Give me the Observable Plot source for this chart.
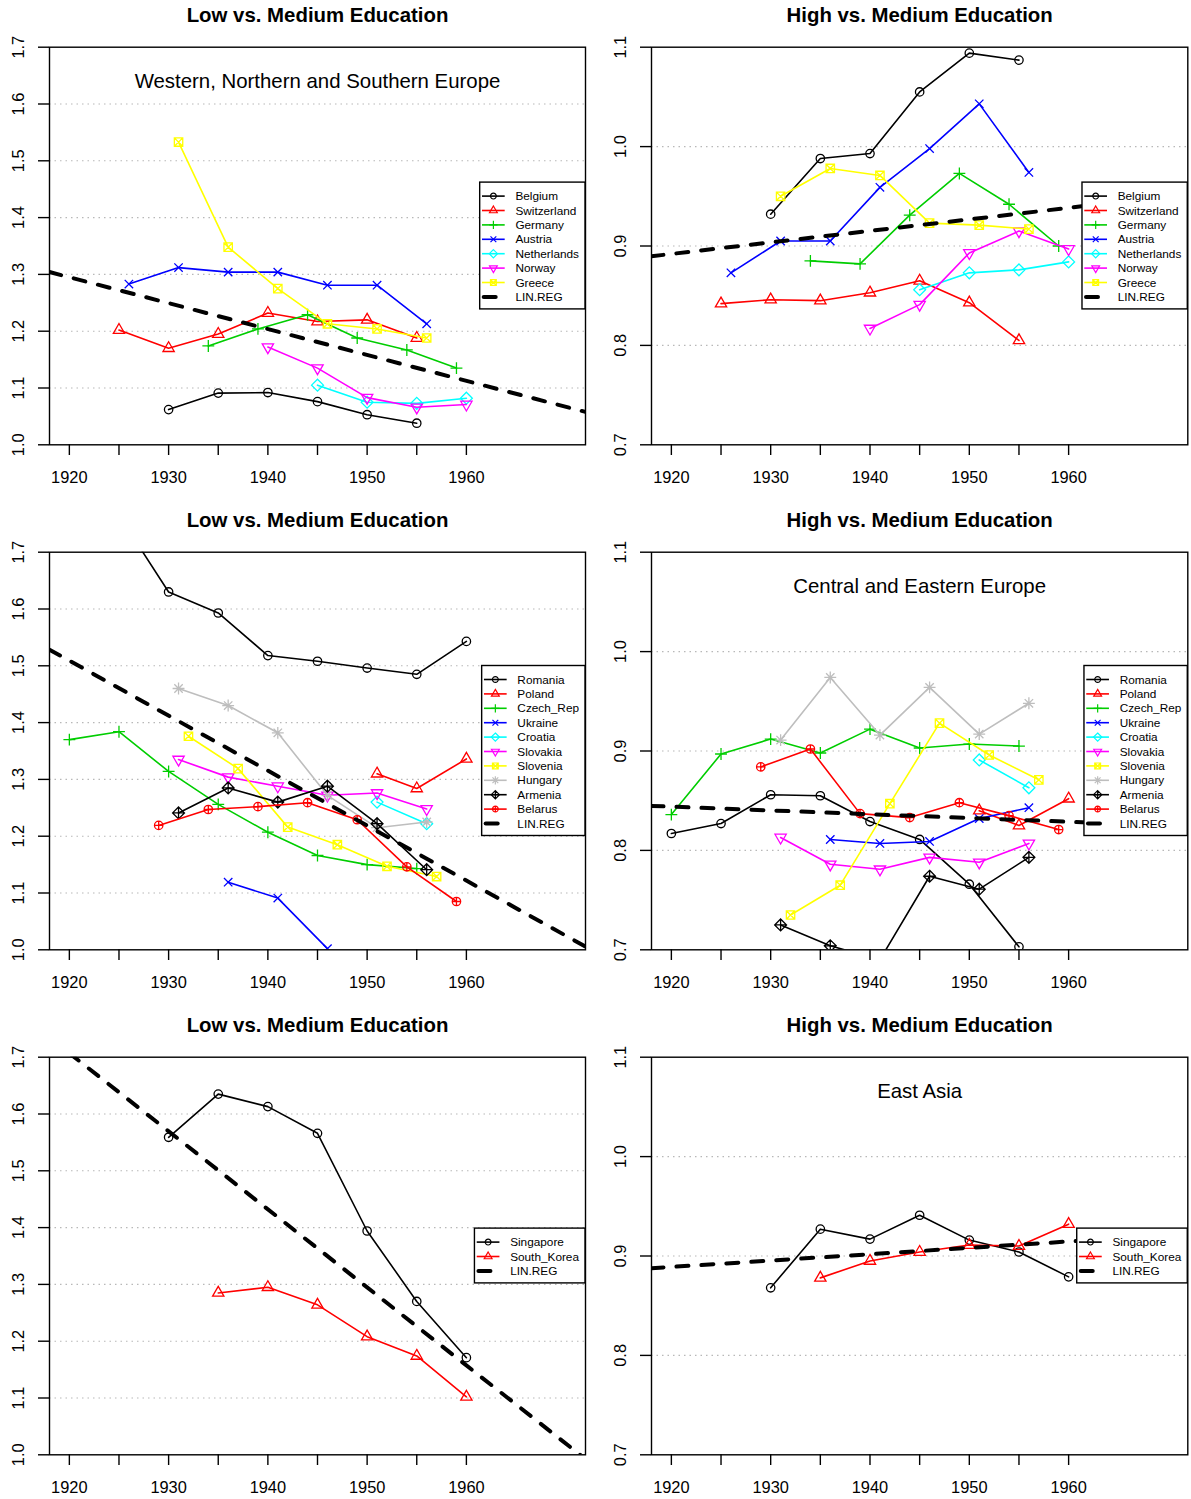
<!DOCTYPE html>
<html><head><meta charset="utf-8">
<script src="https://cdn.jsdelivr.net/npm/d3@7"></script>
<script src="https://cdn.jsdelivr.net/npm/@observablehq/plot@0.6"></script>
<style>
body{margin:0;background:#fff;}
#wrap{position:relative;width:1191px;height:1499px;overflow:hidden;background:#fff;font-family:"Liberation Sans",Arial,sans-serif;}
#wrap svg{position:absolute;}
</style></head><body><div id="wrap"></div>
<script>
// ---------- axes ----------
const xTicks = [1920, 1925, 1930, 1935, 1940, 1945, 1950, 1955, 1960];
const lowTicks = [1.0, 1.1, 1.2, 1.3, 1.4, 1.5, 1.6, 1.7];
const highTicks = [0.7, 0.8, 0.9, 1.0, 1.1];
const rColors = ["#000000", "#FF0000", "#00CD00", "#0000FF", "#00FFFF", "#FF00FF", "#FFFF00", "#BEBEBE"];

// ---------- Western, Northern and Southern Europe ----------
const westCountries = ["Belgium", "Switzerland", "Germany", "Austria", "Netherlands", "Norway", "Greece"];
const westYears = [
  [1930, 1935, 1940, 1945, 1950, 1955],
  [1925, 1930, 1935, 1940, 1945, 1950, 1955],
  [1934, 1939, 1944, 1949, 1954, 1959],
  [1926, 1931, 1936, 1941, 1946, 1951, 1956],
  [1945, 1950, 1955, 1960],
  [1940, 1945, 1950, 1955, 1960],
  [1931, 1936, 1941, 1946, 1951, 1956]
];
const westLow = [
  [1.062, 1.091, 1.092, 1.076, 1.053, 1.038],
  [1.202, 1.170, 1.195, 1.232, 1.217, 1.220, 1.188],
  [1.174, 1.204, 1.229, 1.188, 1.167, 1.135],
  [1.283, 1.312, 1.304, 1.304, 1.281, 1.281, 1.213],
  [1.105, 1.075, 1.073, 1.082],
  [1.172, 1.135, 1.083, 1.066, 1.071],
  [1.533, 1.348, 1.275, 1.213, 1.204, 1.188]
];
const westHigh = [
  [0.932, 0.988, 0.993, 1.055, 1.094, 1.087],
  [0.842, 0.846, 0.845, 0.853, 0.865, 0.843, 0.805],
  [0.885, 0.882, 0.931, 0.973, 0.942, 0.900],
  [0.873, 0.905, 0.905, 0.959, 0.998, 1.043, 0.974],
  [0.856, 0.873, 0.876, 0.884],
  [0.817, 0.841, 0.893, 0.915, 0.897],
  [0.950, 0.978, 0.971, 0.923, 0.921, 0.917]
];
const westLowReg = [1.295, 1.067];   // LIN.REG value at 1920 and at 1970
const westHighReg = [0.892, 0.950];

// ---------- Central and Eastern Europe ----------
const eastCountries = ["Romania", "Poland", "Czech_Rep", "Ukraine", "Croatia", "Slovakia", "Slovenia", "Hungary", "Armenia", "Belarus"];
const eastLowYears = [
  [1925, 1930, 1935, 1940, 1945, 1950, 1955, 1960],
  [1951, 1955, 1960],
  [1920, 1925, 1930, 1935, 1940, 1945, 1950, 1955],
  [1936, 1941, 1946],
  [1951, 1956],
  [1931, 1936, 1941, 1946, 1951, 1956],
  [1932, 1937, 1942, 1947, 1952, 1957],
  [1931, 1936, 1941, 1946, 1951, 1956],
  [1931, 1936, 1941, 1946, 1951, 1956],
  [1929, 1934, 1939, 1944, 1949, 1954, 1959]
];
const eastLow = [
  [1.765, 1.630, 1.593, 1.518, 1.508, 1.496, 1.485, 1.543],
  [1.310, 1.284, 1.336],
  [1.370, 1.384, 1.314, 1.256, 1.207, 1.166, 1.150, 1.143],
  [1.119, 1.091, 1.002],
  [1.260, 1.222],
  [1.335, 1.304, 1.288, 1.272, 1.276, 1.248],
  [1.376, 1.319, 1.216, 1.185, 1.147, 1.129],
  [1.460, 1.430, 1.382, 1.272, 1.215, 1.225],
  [1.241, 1.285, 1.260, 1.288, 1.222, 1.141],
  [1.219, 1.247, 1.252, 1.259, 1.229, 1.146, 1.085]
];
const eastHighYears = [
  [1920, 1925, 1930, 1935, 1940, 1945, 1950, 1955],
  [1951, 1955, 1960],
  [1920, 1925, 1930, 1935, 1940, 1945, 1950, 1955],
  [1936, 1941, 1946, 1951, 1956],
  [1951, 1956],
  [1931, 1936, 1941, 1946, 1951, 1956],
  [1932, 1937, 1942, 1947, 1952, 1957],
  [1931, 1936, 1941, 1946, 1951, 1956],
  [1931, 1936, 1941, 1946, 1951, 1956],
  [1929, 1934, 1939, 1944, 1949, 1954, 1959]
];
const eastHigh = [
  [0.817, 0.827, 0.856, 0.855, 0.829, 0.811, 0.766, 0.703],
  [0.840, 0.825, 0.852],
  [0.836, 0.897, 0.912, 0.898, 0.922, 0.903, 0.907, 0.905],
  [0.811, 0.807, 0.809, 0.832, 0.843],
  [0.891, 0.863],
  [0.813, 0.786, 0.781, 0.793, 0.788, 0.807],
  [0.735, 0.765, 0.847, 0.928, 0.896, 0.871],
  [0.911, 0.974, 0.916, 0.964, 0.917, 0.948],
  [0.725, 0.704, 0.690, 0.774, 0.761, 0.793],
  [0.884, 0.902, 0.837, 0.833, 0.848, 0.835, 0.821]
];
const eastLowReg = [1.509, 1.025];
const eastHighReg = [0.844, 0.825];

// ---------- East Asia ----------
const asiaCountries = ["Singapore", "South_Korea"];
const asiaYears = [
  [1930, 1935, 1940, 1945, 1950, 1955, 1960],
  [1935, 1940, 1945, 1950, 1955, 1960]
];
const asiaLow = [
  [1.559, 1.635, 1.613, 1.566, 1.394, 1.270, 1.171],
  [1.285, 1.295, 1.264, 1.208, 1.174, 1.102]
];
const asiaHigh = [
  [0.868, 0.927, 0.917, 0.941, 0.916, 0.904, 0.879],
  [0.878, 0.895, 0.904, 0.911, 0.910, 0.932]
];
const asiaLowReg = [1.707, 1.020];
const asiaHighReg = [0.889, 0.921];

// ---------- R-style point symbols (pch 1..10) ----------
const SQ2 = Math.SQRT2, TRC0 = Math.sqrt(4 * Math.PI / (3 * Math.sqrt(3))), S3 = Math.sqrt(3);
function sym(fn) { return {draw(ctx, size) { fn(ctx, Math.sqrt(size / Math.PI)); }}; }
const pCircle = (c, R) => { c.moveTo(R, 0); c.arc(0, 0, R, 0, 2 * Math.PI); };
const pPlus = (c, a) => { c.moveTo(-a, 0); c.lineTo(a, 0); c.moveTo(0, -a); c.lineTo(0, a); };
const pTimes = (c, a) => { c.moveTo(-a, -a); c.lineTo(a, a); c.moveTo(-a, a); c.lineTo(a, -a); };
const pDiamond = (c, a) => { c.moveTo(0, -a); c.lineTo(a, 0); c.lineTo(0, a); c.lineTo(-a, 0); c.closePath(); };
const pTri = (c, r, up) => { const s = up ? -1 : 1; c.moveTo(0, s * r); c.lineTo(r * S3 / 2, -s * r / 2); c.lineTo(-r * S3 / 2, -s * r / 2); c.closePath(); };
const pSquare = (c, a) => { c.moveTo(-a, -a); c.lineTo(a, -a); c.lineTo(a, a); c.lineTo(-a, a); c.closePath(); };
const pch = [
  sym((c, R) => pCircle(c, R)),
  sym((c, R) => pTri(c, TRC0 * R, true)),
  sym((c, R) => pPlus(c, SQ2 * R)),
  sym((c, R) => pTimes(c, R)),
  sym((c, R) => pDiamond(c, SQ2 * R)),
  sym((c, R) => pTri(c, TRC0 * R, false)),
  sym((c, R) => { pSquare(c, R); pTimes(c, R); }),
  sym((c, R) => { pTimes(c, R); pPlus(c, SQ2 * R); }),
  sym((c, R) => { pDiamond(c, SQ2 * R); pPlus(c, SQ2 * R); }),
  sym((c, R) => { pCircle(c, R); pPlus(c, R); })
];

const FONT = "Liberation Sans, Arial, sans-serif";
const measureCtx = document.createElement("canvas").getContext("2d");
function textW(s, px) { measureCtx.font = px + "px 'Liberation Sans', Arial, sans-serif"; return measureCtx.measureText(s).width; }

function makePanel(o) {
  const W = 595, H = 489, mt = 46.7, mb = 44.7;
  const ml = o.col === 0 ? 49 : 55, mr = o.col === 0 ? 10 : 3.7;
  const X0 = 1918, X1 = 1972;
  const marks = [];
  marks.push(Plot.ruleY(o.yTicks.slice(1, -1), {y: d => d, stroke: "#b8b8b8", strokeWidth: 1.1, strokeDasharray: "1.5,4"}));
  o.countries.forEach((c, i) => {
    const pts = o.years[i].map((yr, j) => ({year: yr, value: o.values[i][j]}));
    const color = rColors[i % 8];
    marks.push(Plot.line(pts, {x: "year", y: "value", stroke: color, strokeWidth: 1.6, clip: true}));
    marks.push(Plot.dot(pts, {x: "year", y: "value", symbol: pch[i], r: 4.2, stroke: color, fill: "none", strokeWidth: 1.3, clip: true}));
  });
  const slope = (o.reg[1] - o.reg[0]) / 50;
  const regPts = [X0, X1].map(x => ({year: x, value: o.reg[0] + slope * (x - 1920)}));
  marks.push(Plot.line(regPts, {x: "year", y: "value", stroke: "black", strokeWidth: 4, strokeDasharray: "12,13", strokeLinecap: "round", clip: true}));
  marks.push(Plot.frame({stroke: "black", strokeWidth: 1.4}));
  marks.push(Plot.axisX(xTicks, {tickSize: 10.7, tickPadding: 15.8, tickFormat: d => d % 10 === 0 ? String(d) : null, label: null, strokeWidth: 1.4}));
  marks.push(Plot.axisY(o.yTicks, {tickSize: 11, tickFormat: () => null, label: null, strokeWidth: 1.4}));
  marks.push(Plot.text(o.yTicks, {y: d => d, text: d => d.toFixed(1), frameAnchor: "left", dx: -30.7, rotate: -90, fontSize: 16.4, textAnchor: "middle", lineAnchor: "middle"}));
  marks.push(Plot.text([o.title], {text: d => d, frameAnchor: "top", dy: -31.7, fontSize: 20.4, fontWeight: "bold", lineAnchor: "middle"}));
  if (o.subtitle) marks.push(Plot.text([o.subtitle], {text: d => d, frameAnchor: "top", dy: 34.3, fontSize: 20.4, lineAnchor: "middle"}));

  const svg = Plot.plot({
    width: W, height: H, marginTop: mt, marginBottom: mb, marginLeft: ml, marginRight: mr,
    x: {domain: [X0, X1]}, y: {domain: o.yDomain},
    style: {fontFamily: FONT, fontSize: "16.4px", color: "black", background: "white"},
    marks
  });
  svg.style.left = (o.col === 0 ? 0 : 596) + "px";
  svg.style.top = (o.row * 505) + "px";

  // legend (R legend "right")
  const items = o.countries.map((c, i) => ({label: c, i}));
  items.push({label: "LIN.REG", i: -1});
  const fs = 11.8, sp = 14.4;
  const maxW = d3.max(items, d => textW(d.label, fs));
  const LW = 35.7 + maxW + 6;
  const LH = (items.length - 1) * sp + 26;
  const right = W - mr, cy = mt + (H - mt - mb) / 2;
  const lx = right - LW, ly = cy - LH / 2;
  const g = d3.select(svg).append("g").attr("font-family", FONT).attr("font-size", fs).attr("text-anchor", "start");
  g.append("rect").attr("x", lx).attr("y", ly).attr("width", LW).attr("height", LH)
    .attr("fill", "white").attr("stroke", "black").attr("stroke-width", 1.4);
  items.forEach((d, k) => {
    const y = ly + 14 + k * sp;
    if (d.i >= 0) {
      const color = rColors[d.i % 8];
      g.append("line").attr("x1", lx + 2.3).attr("x2", lx + 25).attr("y1", y).attr("y2", y)
        .attr("stroke", color).attr("stroke-width", 1.6);
      g.append("path").attr("d", d3.symbol(pch[d.i], Math.PI * 2.9 * 2.9)())
        .attr("transform", `translate(${lx + 13.7},${y})`).attr("fill", "none")
        .attr("stroke", color).attr("stroke-width", 1.2);
    } else {
      g.append("line").attr("x1", lx + 4).attr("x2", lx + 25).attr("y1", y).attr("y2", y)
        .attr("stroke", "black").attr("stroke-width", 4).attr("stroke-dasharray", "12,13").attr("stroke-linecap", "round");
    }
    g.append("text").attr("x", lx + 35.7).attr("y", y).attr("dy", "0.35em").attr("fill", "black")
      .attr("text-anchor", "start").text(d.label);
  });
  document.getElementById("wrap").appendChild(svg);
}

const lowTitle = "Low vs. Medium Education", highTitle = "High vs. Medium Education";
makePanel({col: 0, row: 0, title: lowTitle, subtitle: "Western, Northern and Southern Europe", countries: westCountries, years: westYears, values: westLow, reg: westLowReg, yDomain: [1.0, 1.7], yTicks: lowTicks});
makePanel({col: 1, row: 0, title: highTitle, subtitle: null, countries: westCountries, years: westYears, values: westHigh, reg: westHighReg, yDomain: [0.7, 1.1], yTicks: highTicks});
makePanel({col: 0, row: 1, title: lowTitle, subtitle: null, countries: eastCountries, years: eastLowYears, values: eastLow, reg: eastLowReg, yDomain: [1.0, 1.7], yTicks: lowTicks});
makePanel({col: 1, row: 1, title: highTitle, subtitle: "Central and Eastern Europe", countries: eastCountries, years: eastHighYears, values: eastHigh, reg: eastHighReg, yDomain: [0.7, 1.1], yTicks: highTicks});
makePanel({col: 0, row: 2, title: lowTitle, subtitle: null, countries: asiaCountries, years: asiaYears, values: asiaLow, reg: asiaLowReg, yDomain: [1.0, 1.7], yTicks: lowTicks});
makePanel({col: 1, row: 2, title: highTitle, subtitle: "East Asia", countries: asiaCountries, years: asiaYears, values: asiaHigh, reg: asiaHighReg, yDomain: [0.7, 1.1], yTicks: highTicks});
</script>
</body></html>
